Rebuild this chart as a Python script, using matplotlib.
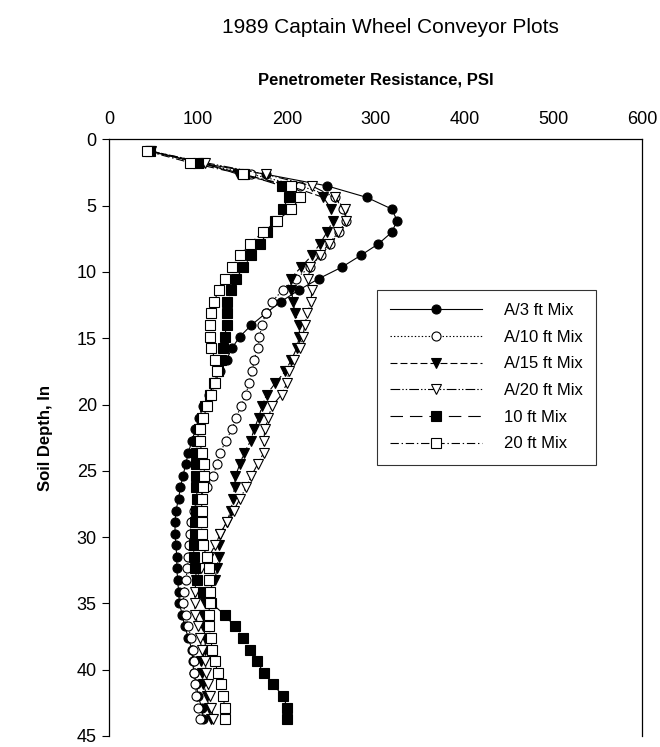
import matplotlib
matplotlib.use("Agg")
import matplotlib.pyplot as plt

plt.rcParams['font.family'] = ['Liberation Sans', 'DejaVu Sans']
plt.rcParams['lines.scale_dashes'] = False

depth = [0.875, 1.75, 2.625, 3.5, 4.375, 5.25, 6.125, 7.0, 7.875, 8.75,
         9.625, 10.5, 11.375, 12.25, 13.125, 14.0, 14.875, 15.75, 16.625, 17.5,
         18.375, 19.25, 20.125, 21.0, 21.875, 22.75, 23.625, 24.5, 25.375, 26.25,
         27.125, 28.0, 28.875, 29.75, 30.625, 31.5, 32.375, 33.25, 34.125, 35.0,
         35.875, 36.75, 37.625, 38.5, 39.375, 40.25, 41.125, 42.0, 42.875, 43.75]

a3 = [45, 100, 176, 245, 290, 318, 324, 318, 303, 283,
      262, 236, 213, 193, 176, 160, 147, 138, 132, 125,
      118, 112, 106, 101, 97, 93, 89, 86, 83, 80,
      78, 75, 74, 74, 75, 76, 76, 77, 78, 79,
      82, 85, 89, 93, 94, 95, 98, 100, 104, 106]

a10 = [44, 98, 160, 215, 254, 263, 267, 259, 249, 238,
       226, 210, 195, 183, 176, 172, 169, 167, 163, 161,
       157, 154, 148, 143, 138, 131, 125, 121, 117, 110,
       99, 95, 92, 91, 90, 89, 88, 86, 84, 83,
       86, 89, 92, 94, 95, 95, 97, 98, 100, 102]

a15 = [47, 105, 145, 203, 241, 250, 252, 245, 237, 228,
       216, 204, 205, 207, 209, 214, 214, 211, 205, 198,
       187, 177, 172, 168, 163, 159, 152, 147, 142, 141,
       139, 137, 132, 125, 124, 123, 121, 119, 112, 108,
       106, 106, 108, 108, 103, 104, 106, 110, 112, 115]

a20 = [46, 108, 176, 228, 254, 265, 267, 258, 247, 237,
       226, 224, 228, 227, 223, 220, 218, 215, 208, 202,
       200, 194, 183, 179, 175, 174, 174, 167, 160, 154,
       147, 140, 132, 125, 119, 112, 103, 98, 96, 96,
       97, 100, 102, 104, 108, 109, 111, 113, 115, 117]

m10 = [46, 100, 152, 194, 202, 195, 187, 178, 170, 160,
       151, 143, 137, 133, 132, 132, 130, 128, 126, 122,
       118, 113, 108, 104, 101, 99, 98, 98, 98, 98,
       99, 98, 97, 96, 95, 95, 96, 99, 105, 115,
       130, 141, 150, 158, 166, 174, 184, 196, 200, 200]

m20 = [42, 91, 150, 205, 215, 205, 189, 173, 158, 147,
       138, 130, 123, 118, 115, 113, 113, 115, 119, 121,
       119, 115, 110, 106, 102, 102, 104, 107, 107, 106,
       104, 104, 104, 104, 105, 110, 112, 112, 113, 113,
       112, 112, 114, 116, 119, 122, 126, 128, 130, 130]

labels = ['A/3 ft Mix', 'A/10 ft Mix', 'A/15 ft Mix', 'A/20 ft Mix', '10 ft Mix', '20 ft Mix']
xticks = [0, 100, 200, 300, 400, 500, 600]
yticks = [0, 5, 10, 15, 20, 25, 30, 35, 40, 45]

fig = plt.figure(figsize=(6.6, 7.47), dpi=100)
ax = fig.add_axes([0.1656, 0.0150, 0.8076, 0.7983])

styles = [
    dict(marker='o', mfc='black', ls='-'),
    dict(marker='o', mfc='white', ls=(0, (1, 1.5))),
    dict(marker='v', mfc='black', ls=(0, (5, 2.2))),
    dict(marker='v', mfc='white', ls=(0, (7, 1.5, 1, 1.5, 1, 1.5))),
    dict(marker='s', mfc='black', ls=(0, (9, 5))),
    dict(marker='s', mfc='white', ls=(0, (6, 2, 1, 2))),
]
series = [a3, a10, a15, a20, m10, m20]
for vals, lab, st in zip(series, labels, styles):
    ax.plot(vals, depth, color='black', lw=0.8, marker=st['marker'], ms=6.5,
            mfc=st['mfc'], mec='black', mew=0.8, ls=st['ls'], label=lab)

ax.set_xlim(0, 600)
ax.set_ylim(45, 0)
ax.set_xticks(xticks)
ax.set_yticks(yticks)
ax.xaxis.tick_top()
ax.xaxis.set_label_position('top')
ax.tick_params(axis='x', length=0, labelsize=13, pad=8)
ax.tick_params(axis='y', direction='out', length=5, width=0.8, labelsize=13, pad=4)
ax.spines['bottom'].set_visible(False)
for s in ['top', 'left', 'right']:
    ax.spines[s].set_linewidth(0.9)

ax.set_xlabel('Penetrometer Resistance, PSI', fontsize=12, fontweight='bold', labelpad=19)
ax.set_ylabel('Soil Depth, In', fontsize=12, fontweight='bold', labelpad=17)

fig.text(0.592, 0.963, '1989 Captain Wheel Conveyor Plots', fontsize=15, ha='center', va='center')

leg = ax.legend(loc='upper left', bbox_to_anchor=(0.502, 0.748), borderaxespad=0,
                fontsize=12, frameon=True, fancybox=False, edgecolor='black',
                handlelength=5.5, handletextpad=1.3, labelspacing=0.7, borderpad=0.8)
leg.get_frame().set_linewidth(0.8)

fig.savefig('out.png', dpi=100)
